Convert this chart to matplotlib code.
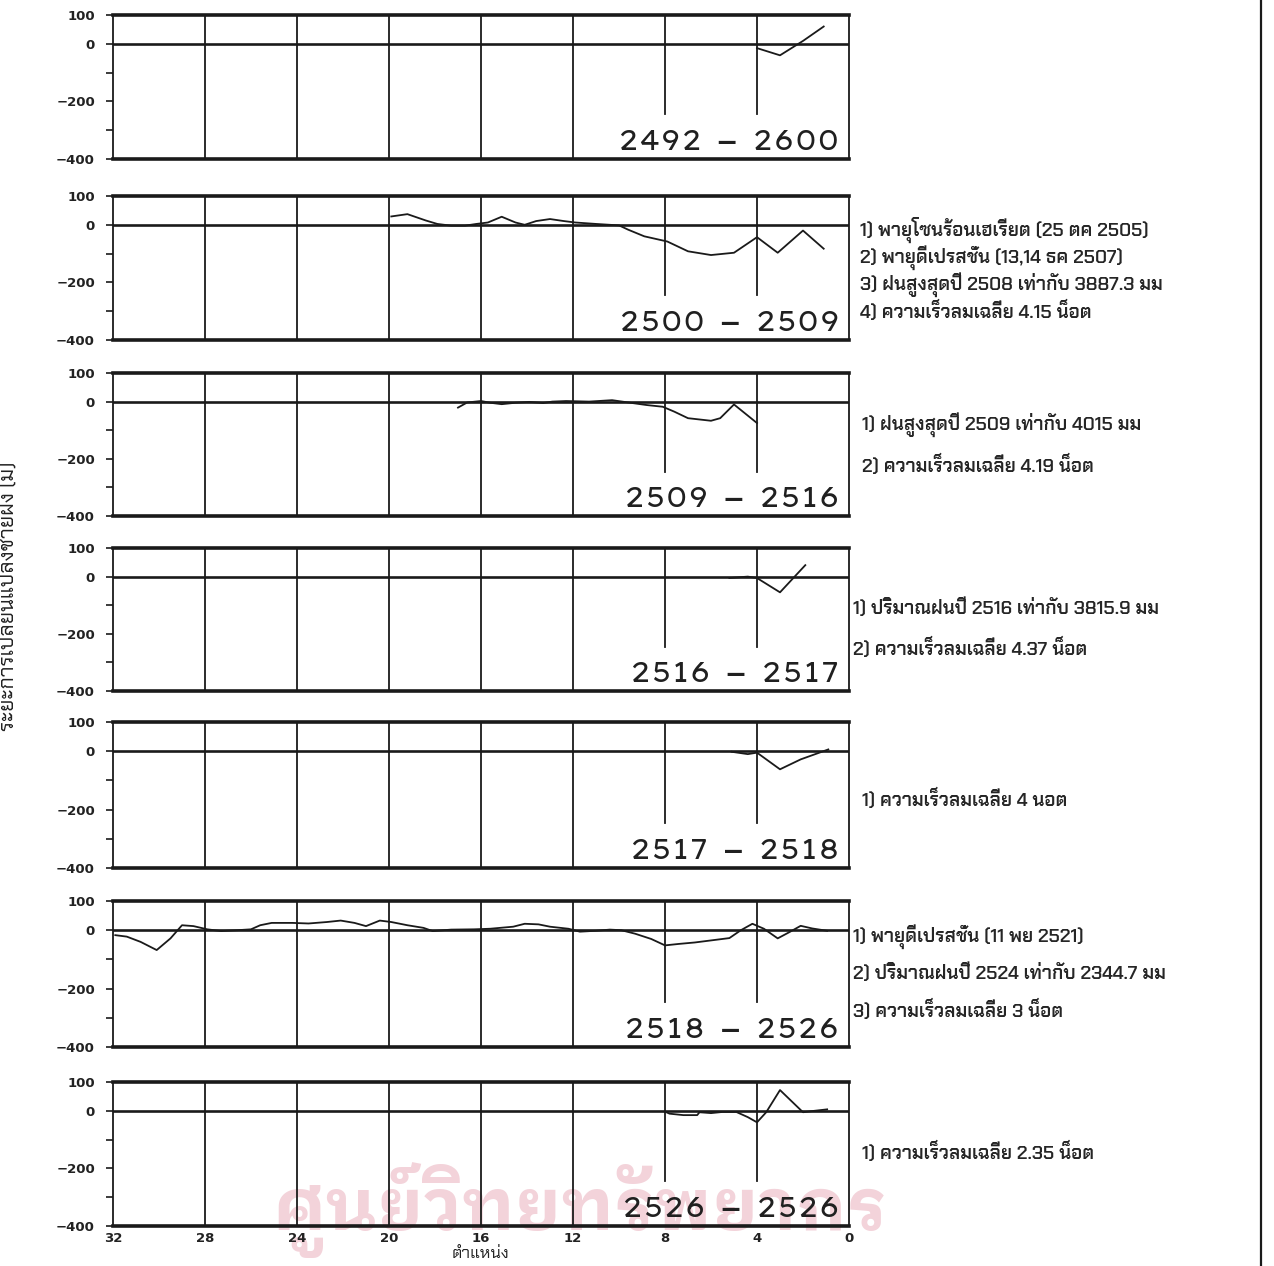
import matplotlib
matplotlib.use("Agg")
import matplotlib.pyplot as plt
from matplotlib.lines import Line2D

# ---- data: shoreline change (m) against position along the coast ----
periods = ["2492 − 2600", "2500 − 2509", "2509 − 2516", "2516 − 2517",
           "2517 − 2518", "2518 − 2526", "2526 − 2526"]

pos_1 = [4.0, 3.0, 2.0, 1.1]
chg_1 = [-15, -40, 10, 60]

pos_2 = [19.9, 19.2, 18.4, 17.9, 17.3, 16.7, 16.2, 15.7, 15.1, 14.5, 14.1, 13.6,
         13.0, 12.4, 11.9, 11.0, 10.0, 9.6, 8.9, 7.9, 7.0, 6.0, 5.0, 4.0, 3.1,
         2.0, 1.1]
chg_2 = [29, 37, 15, 3, -3, -3, 3, 8, 28, 8, 0, 13, 20, 13, 8, 3, -2, -17, -40,
         -58, -92, -105, -97, -43, -97, -20, -83]

pos_3 = [17.0, 16.6, 16.0, 15.6, 15.1, 14.5, 13.9, 13.3, 12.9, 12.3, 11.3, 10.3,
         9.6, 8.8, 8.1, 7.6, 7.0, 6.0, 5.6, 5.0, 4.0]
chg_3 = [-21, -3, 2, -4, -9, -4, -1, -5, 0, 2, 0, 5, -3, -12, -18, -35, -58, -67,
         -58, -10, -75]

pos_4 = [5.2, 4.4, 4.0, 3.0, 1.9]
chg_4 = [-5, 0, -5, -55, 40]

pos_5 = [5.1, 4.4, 4.0, 3.0, 2.1, 0.9]
chg_5 = [-2, -10, -5, -62, -28, 6]

pos_6 = [31.9, 31.4, 30.8, 30.1, 29.5, 29.0, 28.5, 27.9, 27.3, 26.6, 26.0, 25.6,
         25.1, 24.2, 23.5, 22.7, 22.1, 21.5, 21.0, 20.4, 19.9, 19.2, 18.5, 18.1,
         17.3, 16.3, 15.6, 14.6, 14.1, 13.5, 13.0, 12.2, 11.7, 11.0, 10.4, 9.9,
         9.3, 8.6, 8.0, 7.4, 6.7, 6.0, 5.2, 4.7, 4.2, 3.7, 3.1, 2.6, 2.1, 1.6,
         0.95]
chg_6 = [-17, -22, -40, -68, -28, 17, 14, 3, -3, 0, 3, 17, 25, 25, 23, 28, 33,
         25, 14, 33, 28, 17, 8, -3, 2, 3, 5, 12, 22, 20, 12, 5, -5, -2, 2, 0,
         -12, -30, -52, -47, -42, -35, -27, 0, 22, 5, -28, -7, 15, 6, -2]

pos_7 = [8.0, 7.8, 7.2, 6.6, 6.5, 6.0, 5.5, 4.9, 4.4, 4.0, 3.6, 3.0, 2.0, 1.5,
         0.95]
chg_7 = [-3, -10, -15, -15, -5, -8, -4, -4, -22, -40, -5, 72, -5, 0, 5]

positions = [pos_1, pos_2, pos_3, pos_4, pos_5, pos_6, pos_7]
changes = [chg_1, chg_2, chg_3, chg_4, chg_5, chg_6, chg_7]

notes = [
    [],
    ["1) พายุโซนร้อนเฮเรียต (25 ตค 2505)",
     "2) พายุดีเปรสชั่น (13,14 ธค 2507)",
     "3) ฝนสูงสุดปี 2508 เท่ากับ 3887.3 มม",
     "4) ความเร็วลมเฉลี่ย 4.15 น็อต"],
    ["1) ฝนสูงสุดปี 2509 เท่ากับ 4015 มม",
     "2) ความเร็วลมเฉลี่ย 4.19 น็อต"],
    ["1) ปริมาณฝนปี 2516 เท่ากับ 3815.9 มม",
     "2) ความเร็วลมเฉลี่ย 4.37 น็อต"],
    ["1) ความเร็วลมเฉลี่ย 4 นอต"],
    ["1) พายุดีเปรสชั่น (11 พย 2521)",
     "2) ปริมาณฝนปี 2524 เท่ากับ 2344.7 มม",
     "3) ความเร็วลมเฉลี่ย 3 น็อต"],
    ["1) ความเร็วลมเฉลี่ย 2.35 น็อต"],
]

y_ticks = [100, 0, -100, -200, -300, -400]
y_tick_labels = ["100", "0", "", "−200", "", "−400"]
x_ticks = [32, 28, 24, 20, 16, 12, 8, 4, 0]
x_tick_labels = ["32", "28", "24", "20", "16", "12", "8", "4", "0"]

y_label = "ระยะการเปลี่ยนแปลงชายฝั่ง (ม)"
x_label = "ตำแหน่ง"
stamp = "ศูนย์วิทยทรัพยากร"

# ---- layout (pixels of a 1274 x 1266 canvas) ----
W, H = 1274, 1266
LEFT, RIGHT = 113, 849
panel_rows = [(15, 159), (196, 340), (373, 516), (548, 691),
              (722, 868), (901, 1047), (1082, 1226)]
note_rows = [[], [230, 258, 285, 311], [425, 465], [608, 648], [799],
             [937, 973, 1010], [1152]]
note_x = [860, 860, 862, 853, 862, 853, 862]

INK = "#1a1a1a"
tick_font = dict(family=["DejaVu Sans"], weight="bold", size=9.5)
thai_note = dict(family=["Chakra Petch", "DejaVu Sans"], weight="semibold",
                 size=13.5, color="#262626")
period_font = dict(family=["Lexend Zetta", "Lexend Giga", "DejaVu Sans"],
                   weight=200, size=19.5, color="#202020")

fig = plt.figure(figsize=(W / 100, H / 100), dpi=100, facecolor="white")

# faint library stamp printed behind the charts
fig.text(580 / W, 1 - 1210 / H, stamp, ha="center", va="center",
         family=["IBM Plex Sans Thai Looped", "DejaVu Sans"],
         weight="bold", size=52, color="#f3d3da", zorder=-5)

for i, (top, bot) in enumerate(panel_rows):
    ax = fig.add_axes([LEFT / W, 1 - bot / H, (RIGHT - LEFT) / W, (bot - top) / H])
    ax.set_facecolor("none")
    ax.set_xlim(32, 0)
    ax.set_ylim(-400, 100)

    for v in (28, 24, 20, 16, 12):
        ax.axvline(v, color=INK, lw=1.3, zorder=2)
    for v in (8, 4):
        ax.plot([v, v], [100, -245], color=INK, lw=1.3, zorder=2)
    ax.axhline(0, color=INK, lw=1.9, zorder=2)
    ax.plot(positions[i], changes[i], color=INK, lw=1.3, zorder=3)

    for side in ("top", "bottom"):
        ax.spines[side].set_linewidth(2.6)
        ax.spines[side].set_color(INK)
    for side in ("left", "right"):
        ax.spines[side].set_linewidth(1.3)
        ax.spines[side].set_color(INK)

    ax.set_yticks(y_ticks)
    ax.set_yticklabels(y_tick_labels, fontdict=tick_font, color="#222222")
    ax.tick_params(axis="y", direction="out", length=5, width=1.2, pad=8,
                   color=INK)
    if i == len(panel_rows) - 1:
        ax.set_xticks(x_ticks)
        ax.set_xticklabels(x_tick_labels, fontdict=tick_font, color="#222222")
        ax.tick_params(axis="x", length=0, pad=4)
    else:
        ax.set_xticks([])

    ax.text(0.4, -368, periods[i], ha="right", va="baseline", zorder=4,
            **period_font)

    for txt, yy in zip(notes[i], note_rows[i]):
        fig.text(note_x[i] / W, 1 - yy / H, txt, ha="left", va="center",
                 **thai_note)

fig.text(9 / W, 1 - 596 / H, y_label, rotation=90, ha="center", va="center",
         family=["Chakra Petch", "DejaVu Sans"], size=15, color="#222222")
fig.text(481 / W, 1 - 1254 / H, x_label, ha="center", va="center",
         family=["Chakra Petch", "DejaVu Sans"], size=12, color="#222222")

# right-hand border of the page frame
fig.add_artist(Line2D([1261 / W, 1261 / W], [0, 1], color=INK, lw=1.6))

fig.savefig("out.png", dpi=100, facecolor="white")
